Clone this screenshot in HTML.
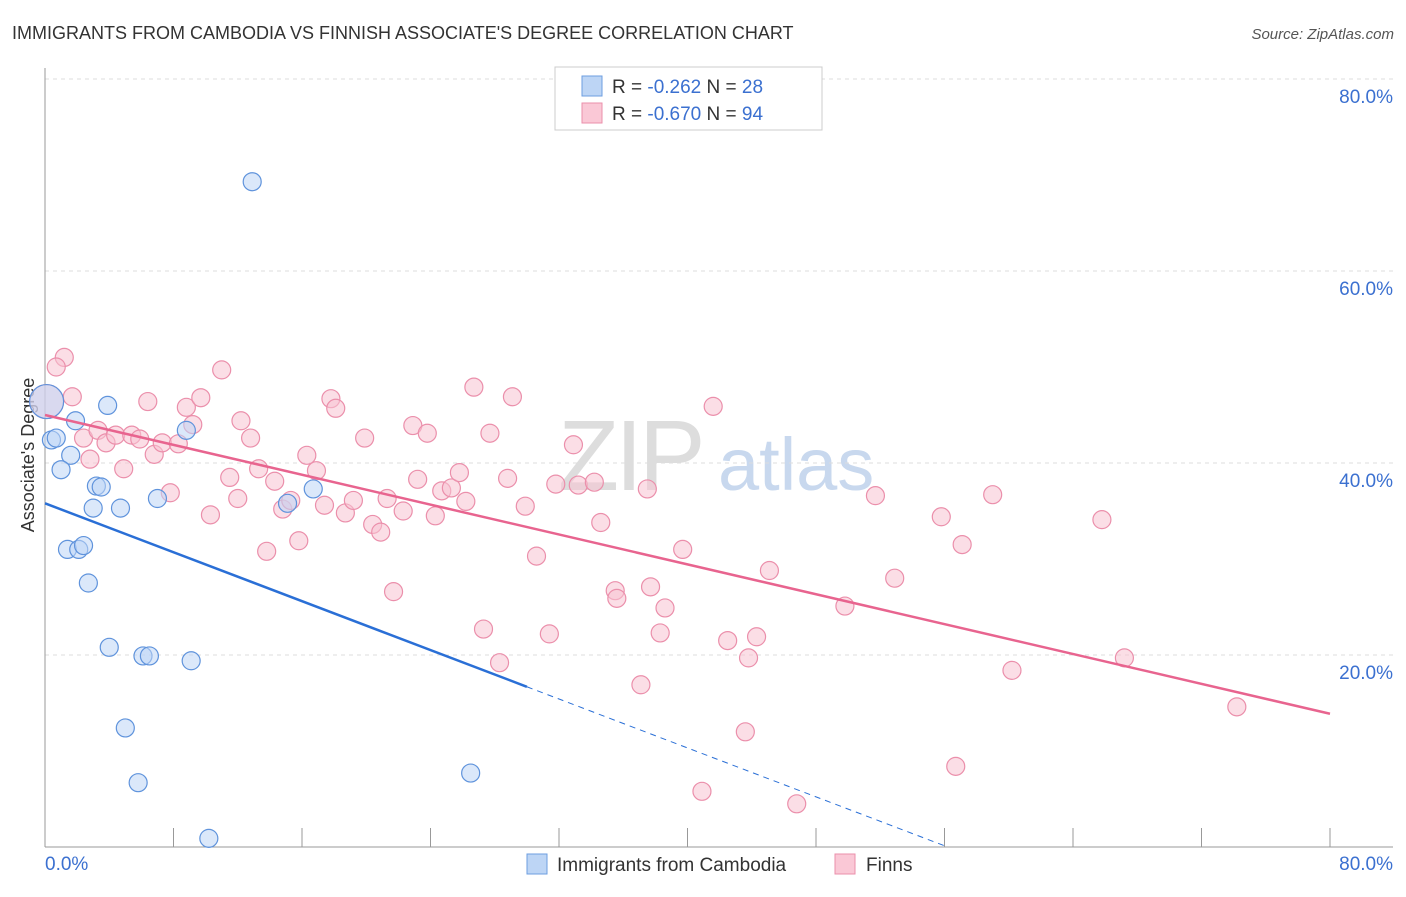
<!DOCTYPE html>
<html><head><meta charset="utf-8"><style>
body{margin:0;background:#fff;font-family:"Liberation Sans",sans-serif}
svg text{font-family:"Liberation Sans",sans-serif}
</style></head><body>
<svg width="1406" height="892">
<text x="12" y="39" font-size="18" fill="#333">IMMIGRANTS FROM CAMBODIA VS FINNISH ASSOCIATE'S DEGREE CORRELATION CHART</text>
<text x="1394" y="39" font-size="15" fill="#555" text-anchor="end" font-style="italic">Source: ZipAtlas.com</text>
<g><text x="558" y="490" font-size="100" fill="#ddd" font-family="Liberation Serif" letter-spacing="-4">ZIP</text><text x="718" y="490" font-size="74" fill="#c8d8ee">atlas</text></g>
<g id="grid"></g><g id="axes"></g>
<text transform="translate(34,455) rotate(-90)" text-anchor="middle" font-size="18" fill="#333">Associate's Degree</text>
<g id="pts"></g><g id="lines"></g>
<g>
<rect x="555" y="67" width="267" height="63" fill="#fff" stroke="#ccc"/>
<rect x="582" y="76" width="20" height="20" fill="#bdd5f5" stroke="#6d9ee0"/>
<rect x="582" y="103" width="20" height="20" fill="#fac8d6" stroke="#eb8fab"/>
<text x="612" y="93" font-size="19" fill="#333">R = <tspan fill="#3b70d0">-0.262</tspan>   N = <tspan fill="#3b70d0">28</tspan></text>
<text x="612" y="120" font-size="19" fill="#333">R = <tspan fill="#3b70d0">-0.670</tspan>   N = <tspan fill="#3b70d0">94</tspan></text>
</g>
<g>
<rect x="527" y="854" width="20" height="20" fill="#bdd5f5" stroke="#6d9ee0"/>
<text x="557" y="871" font-size="19" fill="#333">Immigrants from Cambodia</text>
<rect x="835" y="854" width="20" height="20" fill="#fac8d6" stroke="#eb8fab"/>
<text x="866" y="871" font-size="19" fill="#333">Finns</text>
</g>
</svg>
<script>
const blueX=[0.1,0.4,0.7,1.9,1.6,1.0,3.9,8.8,3.2,3.5,3.0,4.7,7.0,1.4,2.1,2.4,2.7,4.0,6.1,6.5,9.1,5.0,5.8,10.2,12.9,16.7,15.1,26.5];
const blueY=[46.4,42.4,42.6,44.4,40.8,39.3,46.0,43.4,37.6,37.5,35.3,35.3,36.3,31.0,31.0,31.4,27.5,20.8,19.9,19.9,19.4,12.4,6.7,0.9,69.3,37.3,35.8,7.7];
const pinkX=[0.1,1.2,0.7,1.7,2.4,2.8,3.3,3.8,4.4,4.9,5.4,5.9,6.4,6.8,7.3,7.8,8.3,8.8,9.2,9.7,10.3,11.0,11.5,12.0,12.2,12.8,13.3,13.8,14.3,14.8,15.3,15.8,16.3,16.9,17.4,17.8,18.1,18.7,19.2,19.9,20.4,20.9,21.3,21.7,22.3,22.9,23.2,23.8,24.3,24.7,25.3,25.8,26.2,26.7,27.3,27.7,28.3,28.8,29.1,29.9,30.6,31.4,31.8,32.9,33.2,34.2,34.6,35.5,35.6,37.1,37.5,37.7,38.3,38.6,39.7,40.9,41.6,42.5,43.6,43.8,44.3,45.1,46.8,49.8,51.7,52.9,55.8,56.7,57.1,59.0,60.2,65.8,67.2,74.2];
const pinkY=[46.4,51.0,50.0,46.9,42.6,40.4,43.4,42.1,42.9,39.4,42.9,42.5,46.4,40.9,42.1,36.9,42.0,45.8,44.0,46.8,34.6,49.7,38.5,36.3,44.4,42.6,39.4,30.8,38.1,35.2,36.1,31.9,40.8,39.2,35.6,46.7,45.7,34.8,36.1,42.6,33.6,32.8,36.3,26.6,35.0,43.9,38.3,43.1,34.5,37.1,37.4,39.0,36.0,47.9,22.7,43.1,19.2,38.4,46.9,35.5,30.3,22.2,37.8,41.9,37.7,38.0,33.8,26.7,25.9,16.9,37.3,27.1,22.3,24.9,31.0,5.8,45.9,21.5,12.0,19.7,21.9,28.8,4.5,25.1,36.6,28.0,34.4,8.4,31.5,36.7,18.4,34.1,19.7,14.6];
const yTicks=[20,40,60,80];
const blueTrend=[35.8,-0.637];
const pinkTrend=[45.0,-0.389];
const X=v=>45+v*(1285/80), Y=v=>847-v*9.6;
const NS="http://www.w3.org/2000/svg";
function mk(p,t,a){const e=document.createElementNS(NS,t);for(const k in a)e.setAttribute(k,a[k]);p.appendChild(e);return e;}
const grid=document.getElementById('grid'),axes=document.getElementById('axes');
yTicks.forEach(t=>{
 const l=mk(grid,'line',{x1:45,x2:1393,y1:Y(t),y2:Y(t),stroke:'#ddd','stroke-dasharray':'4,4'});
 
 
 const tx=mk(axes,'text',{x:1393,y:Y(t)+24,'text-anchor':'end','font-size':19,fill:'#3b70d0'});
 tx.textContent=t.toFixed(1)+'%';
 
 
});
mk(axes,'line',{x1:45,x2:45,y1:68,y2:847,stroke:'#999'});
mk(axes,'line',{x1:45,x2:1393,y1:847,y2:847,stroke:'#999'});
for(let i=1;i<=10;i++){const t=mk(axes,'line',{x1:X(i*8),x2:X(i*8),y1:828,y2:847,stroke:'#999'});
 
 }
let a=mk(axes,'text',{x:45,y:870,'font-size':19,fill:'#3b70d0'});a.textContent='0.0%';

a=mk(axes,'text',{x:1393,y:870,'font-size':19,fill:'#3b70d0','text-anchor':'end'});a.textContent='80.0%';

const pts=document.getElementById('pts');
function dots(xs,ys,fill,stroke,name){xs.forEach((x,i)=>{const c=mk(pts,'circle',{cx:X(x),cy:Y(ys[i]),r:i===0?17:9,fill:fill,'fill-opacity':0.55,stroke:stroke,'stroke-width':1.2});
 
 });}
dots(pinkX,pinkY,'#f8c3d2','#eb8fab','finns-point');
dots(blueX,blueY,'#bdd5f5','#5f93dc','cambodia-point');
const lines=document.getElementById('lines');
let ln=mk(lines,'line',{x1:X(0),y1:Y(pinkTrend[0]),x2:X(80),y2:Y(pinkTrend[0]+pinkTrend[1]*80),stroke:'#e8648f','stroke-width':2.5});

const bEnd=30, bZero=-blueTrend[0]/blueTrend[1];
ln=mk(lines,'line',{x1:X(0),y1:Y(blueTrend[0]),x2:X(bEnd),y2:Y(blueTrend[0]+blueTrend[1]*bEnd),stroke:'#2a6fd6','stroke-width':2.5});

ln=mk(lines,'line',{x1:X(bEnd),y1:Y(blueTrend[0]+blueTrend[1]*bEnd),x2:X(bZero),y2:Y(0),stroke:'#2a6fd6','stroke-width':1,'stroke-dasharray':'6,5'});

</script>
</body></html>
